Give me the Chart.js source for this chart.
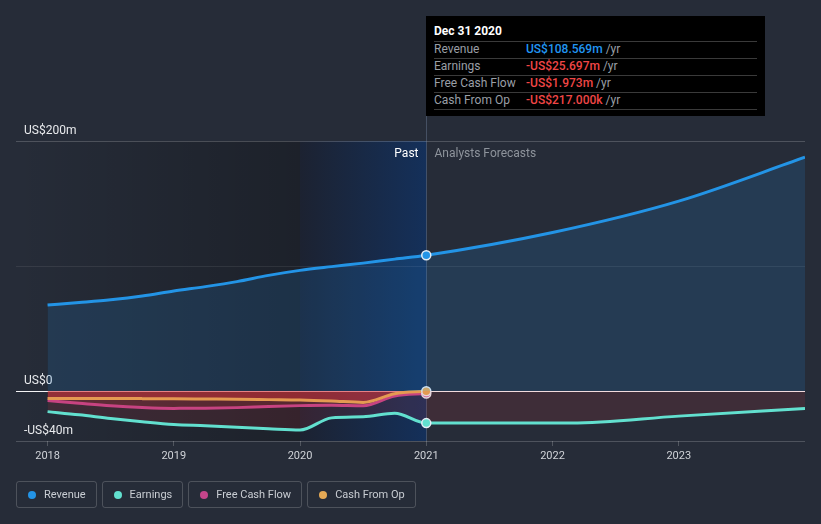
<!DOCTYPE html>
<html><head><meta charset="utf-8">
<script src="https://cdn.jsdelivr.net/npm/chart.js@4/dist/chart.umd.min.js"></script>
<style>
html,body{margin:0;padding:0;background:#262c38;width:821px;height:524px;overflow:hidden;font-family:Roboto,"Noto Sans",sans-serif;}
#wrap{position:relative;width:821px;height:524px;}
#c{position:absolute;left:0;top:0;}
#tip{position:absolute;top:16px;left:427px;width:339px;height:100px;background:#000;box-sizing:border-box;padding:0 8px;font-size:12px;}
#tip .title{height:25px;box-sizing:border-box;padding-top:7px;line-height:16px;font-weight:bold;color:#fff;}
#tip .row{height:17px;box-sizing:border-box;border-top:1px solid #3a3a3a;line-height:15px;white-space:nowrap;}
#tip .row:last-child{border-bottom:1px solid #3a3a3a;height:18px;}
#tip .lab{display:inline-block;width:92px;color:#9a9fa6;}
#tip .val{font-weight:500;}
#tip .unit{color:#9a9fa6;}
#legend{position:absolute;left:16px;top:481px;display:flex;gap:5px;}
.item{height:27px;box-sizing:border-box;border:1px solid rgba(255,255,255,0.18);border-radius:3px;padding:0 10px 0 27px;position:relative;line-height:25px;font-size:11px;color:#c9cdd3;white-space:nowrap;}
.item i{position:absolute;left:11px;top:8.5px;width:8px;height:8px;border-radius:50%;}
</style></head>
<body><div id="wrap"><canvas id="c" width="821" height="524"></canvas><div id="tip"></div><div id="legend"></div></div>
<script>
// ---- data (US$ millions, x in decimal years) ----
const pastYears       = [2018.0, 2018.25, 2018.5, 2018.75, 2019.0, 2019.25, 2019.5, 2019.75, 2020.0, 2020.25, 2020.5, 2020.75, 2021.0];
const revenuePast     = [68.8, 70.8, 73.0, 76.0, 80.0, 83.5, 87.5, 92.5, 96.5, 99.5, 102.3, 105.5, 108.569];
const earningsPast    = [-16.5, -19.0, -22.0, -24.6, -26.8, -27.8, -29.0, -30.2, -31.2, -21.5, -20.6, -17.8, -25.697];
const fcfPast         = [-7.7, -9.8, -11.8, -13.2, -13.9, -13.8, -13.3, -12.4, -11.7, -11.4, -11.8, -4.0, -1.973];
const cfoPast         = [-5.9, -5.9, -6.0, -6.1, -6.2, -6.4, -6.6, -6.9, -7.2, -8.0, -9.1, -2.2, -0.217];
const revenueFcYears  = [2022.0, 2023.0, 2024.0];
const revenueFc       = [126.8, 151.9, 187.0];
const earningsFcYears = [2022.15, 2023.0, 2024.0];
const earningsFc      = [-25.697, -20.1, -13.9];
const xTickValues     = [2018, 2019, 2020, 2021, 2022, 2023];
const yTickValues     = [-40, 0, 100, 200];
const yTickLabels     = ['-US$40m', 'US$0', '', 'US$200m'];
const markYear        = 2021.0;
const highlightStart  = 2020.0;
const seriesNames     = ['Revenue', 'Earnings', 'Free Cash Flow', 'Cash From Op'];
const seriesColors    = ['#2394e6', '#62e0cf', '#c4458b', '#e5a955'];
const tipTitle        = 'Dec 31 2020';
const tipValues       = ['US$108.569m', '-US$25.697m', '-US$1.973m', '-US$217.000k'];
const tipValueColors  = ['#2196f3', '#f04646', '#f04646', '#f04646'];

function pts(xs, ys){ return xs.map((x,i)=>({x:x, y:ys[i]})); }

const common = {
  borderWidth: 3,
  fill: 'origin',
  cubicInterpolationMode: 'monotone',
  pointRadius: ctx => (ctx.raw && ctx.raw.x === markYear) ? 4.5 : 0,
  pointHoverRadius: 0,
  pointBorderWidth: 1.5,
  pointBorderColor: '#e6edf5'
};

const datasets = [
  Object.assign({}, common, {label: seriesNames[0], data: pts(pastYears.concat(revenueFcYears), revenuePast.concat(revenueFc)),
    borderColor: seriesColors[0], pointBackgroundColor: seriesColors[0], backgroundColor: 'rgba(33,150,243,0.15)'}),
  Object.assign({}, common, {label: seriesNames[1], data: pts(pastYears.concat(earningsFcYears), earningsPast.concat(earningsFc)),
    borderColor: seriesColors[1], pointBackgroundColor: seriesColors[1], backgroundColor: 'rgba(225,55,60,0.13)'}),
  Object.assign({}, common, {label: seriesNames[3], data: pts(pastYears, cfoPast),
    borderColor: seriesColors[3], pointBackgroundColor: seriesColors[3], backgroundColor: 'rgba(225,50,55,0.42)'}),
  Object.assign({}, common, {label: seriesNames[2], data: pts(pastYears, fcfPast),
    borderColor: seriesColors[2], pointBackgroundColor: seriesColors[2], backgroundColor: 'rgba(225,55,60,0.20)'})
];

const decor = {
  id: 'decor',
  beforeDraw(chart){
    const {ctx, chartArea:a, scales:{x}} = chart;
    ctx.save();
    ctx.fillStyle = '#262c38'; ctx.fillRect(0,0,chart.width,chart.height);
    const x20 = x.getPixelForValue(highlightStart), x21 = x.getPixelForValue(markYear);
    let g = ctx.createLinearGradient(a.left,0,x20,0);
    g.addColorStop(0,'rgba(0,0,0,0)'); g.addColorStop(1,'rgba(0,0,0,0.25)');
    ctx.fillStyle = g; ctx.fillRect(a.left,a.top,x20-a.left,a.bottom-a.top);
    g = ctx.createLinearGradient(x20,0,x21,0);
    g.addColorStop(0,'#1c2231'); g.addColorStop(1,'#14305a');
    ctx.fillStyle = g; ctx.fillRect(x20,a.top,x21-x20,a.bottom-a.top);
    ctx.restore();
  },
  beforeDatasetsDraw(chart){
    const {ctx, chartArea:a, scales:{x}} = chart;
    const x21 = Math.round(x.getPixelForValue(markYear)) + 0.5;
    ctx.save();
    ctx.strokeStyle = 'rgba(130,150,180,0.35)'; ctx.lineWidth = 1;
    ctx.beginPath(); ctx.moveTo(x21,116); ctx.lineTo(x21,a.bottom); ctx.stroke();
    ctx.font = '12px Roboto, "Noto Sans", sans-serif';
    ctx.textBaseline = 'middle';
    ctx.textAlign = 'right'; ctx.fillStyle = '#ffffff';
    ctx.fillText('Past', x21 - 8, a.top + 13);
    ctx.textAlign = 'left'; ctx.fillStyle = '#8e949c';
    ctx.fillText('Analysts Forecasts', x21 + 8, a.top + 13);
    ctx.restore();
  }
};

const chart = new Chart(document.getElementById('c'), {
  type: 'line',
  data: {datasets},
  plugins: [decor],
  options: {
    responsive: false, animation: false, devicePixelRatio: 1,
    layout: {padding: {left: 16, right: 16, top: 141, bottom: 53}},
    plugins: {legend: {display: false}, tooltip: {enabled: false}},
    events: [],
    scales: {
      x: {
        type: 'linear', min: 2017.75, max: 2024,
        afterBuildTicks: s => { s.ticks = xTickValues.map(v => ({value: v})); },
        afterFit: s => { s.height = 30; },
        ticks: {color: '#d0d3d8', font: {family: 'Roboto', size: 11}, padding: 4, maxRotation: 0, autoSkip: false,
          callback: v => String(v)},
        grid: {display: true, drawOnChartArea: false, drawTicks: true, tickLength: 5, color: 'rgba(255,255,255,0.2)'},
        border: {display: false}
      },
      y: {
        min: -40, max: 200,
        afterBuildTicks: s => { s.ticks = yTickValues.map(v => ({value: v})); },
        afterFit: s => { s.width = 0; },
        ticks: {mirror: true, padding: 8, labelOffset: -10, color: '#e8eaed', font: {family: 'Roboto', size: 12},
          callback: v => yTickLabels[yTickValues.indexOf(v)]},
        grid: {drawTicks: false, lineWidth: 1,
          color: ctx => {
            const v = ctx.tick && ctx.tick.value;
            if (v === 0) return 'rgba(255,255,255,0.95)';
            if (v === 100) return 'rgba(255,255,255,0.08)';
            return 'rgba(255,255,255,0.19)';
          }},
        border: {display: false}
      }
    }
  }
});

// tooltip box (HTML)
const tip = document.getElementById('tip');
tip.style.left = Math.round(chart.scales.x.getPixelForValue(markYear)) + 'px';
let html = '<div class="title">' + tipTitle + '</div>';
seriesNames.forEach((n,i) => {
  html += '<div class="row"><span class="lab">' + n + '</span><span class="val" style="color:' + tipValueColors[i] + '">' + tipValues[i] + '</span><span class="unit"> /yr</span></div>';
});
tip.innerHTML = html;

// legend (HTML)
const legend = document.getElementById('legend');
seriesNames.forEach((n,i) => {
  const d = document.createElement('div'); d.className = 'item';
  d.innerHTML = '<i style="background:' + seriesColors[i] + '"></i>' + n;
  legend.appendChild(d);
});
</script>
</body></html>
